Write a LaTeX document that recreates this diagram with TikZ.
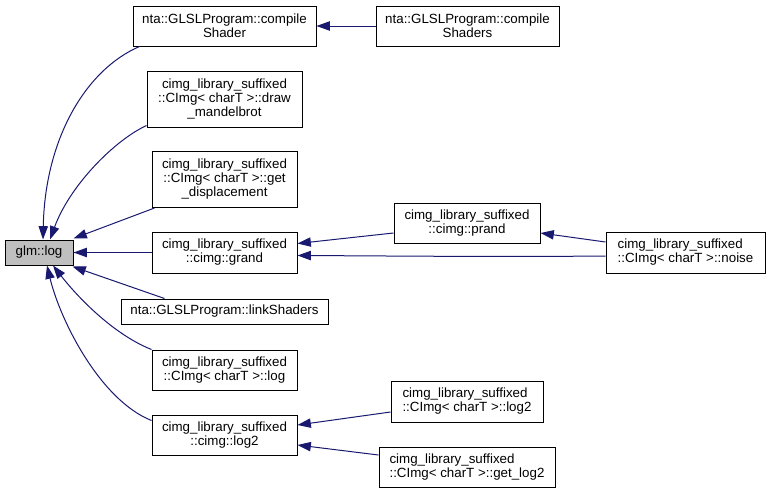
\documentclass[tikz,border=0pt]{standalone}
\usepackage{fontspec}
\setmainfont{Liberation Sans}
\usetikzlibrary{arrows.meta,calc}
\definecolor{edgeblue}{HTML}{191970}
\definecolor{glmgray}{HTML}{BFBFBF}
\begin{document}
\begin{tikzpicture}[x=0.75pt,y=-0.75pt,
  box/.style={draw=black,line width=0.75pt,rectangle,inner sep=0pt,align=center,font=\fontsize{10}{10.5}\selectfont},
  lbox/.style={box,align=left},
  edge/.style={draw=edgeblue,line width=0.75pt,-{Triangle[length=10pt,width=7pt]}}]
\useasboundingbox (0,0) rectangle (771,493);
\node[box,fill=glmgray,minimum width=51pt,minimum height=18.75pt] (glm) at (39,252.5) {glm::log};
\node[box,minimum width=137.25pt,minimum height=30pt] (cs) at (224.5,26) {nta::GLSLProgram::compile\\Shader};
\node[box,minimum width=137.25pt,minimum height=30pt] (css) at (467.5,26) {nta::GLSLProgram::compile\\Shaders};
\node[box,minimum width=116.25pt,minimum height=42pt] (dm) at (224.5,99) {cimg\_library\_suffixed\\::CImg< charT >::draw\\\_mandelbrot};
\node[box,minimum width=108.75pt,minimum height=42pt] (gd) at (224.5,179.5) {cimg\_library\_suffixed\\::CImg< charT >::get\\\_displacement};
\node[box,minimum width=108.75pt,minimum height=30.75pt] (grand) at (224.5,252.5) {cimg\_library\_suffixed\\::cimg::grand};
\node[box,minimum width=155.25pt,minimum height=18.75pt] (ls) at (224.5,311.5) {nta::GLSLProgram::linkShaders};
\node[box,minimum width=108.75pt,minimum height=30pt] (clog) at (224.5,370) {cimg\_library\_suffixed\\::CImg< charT >::log};
\node[box,minimum width=108.75pt,minimum height=30pt] (clogtwo) at (224.5,435) {cimg\_library\_suffixed\\::cimg::log2};
\node[box,minimum width=109.5pt,minimum height=30pt] (prand) at (467,223) {cimg\_library\_suffixed\\::cimg::prand};
\node[lbox,minimum width=119.25pt,minimum height=30.75pt] (noise) at (685.5,252.5) {cimg\_library\_suffixed\\::CImg< charT >::noise};
\node[lbox,minimum width=114pt,minimum height=30.75pt] (Clogtwo) at (467,401.5) {cimg\_library\_suffixed\\::CImg< charT >::log2};
\node[lbox,minimum width=132pt,minimum height=30pt] (getlog) at (467,467) {cimg\_library\_suffixed\\::CImg< charT >::get\_log2};
% edges
\draw[edge] ($(cs.south west)+(7,0)$) .. controls (85,70) and (45,140) .. ($(glm.north)+(4,0)$);
\draw[edge] ($(dm.south west)+(0,-2)$) .. controls (115,140) and (70,185) .. ($(glm.north)+(11,0)$);
\draw[edge] ($(gd.south west)+(3,0)$) -- ($(glm.north east)+(0,-1)$);
\draw[edge] (grand.west) -- (glm.east);
\draw[edge] ($(ls.north west)+(44,0)$) -- ($(glm.south east)+(-1,1)$);
\draw[edge] (clog.north west) .. controls (115,335) and (80,300) .. ($(glm.south)+(14,0)$);
\draw[edge] ($(clogtwo.north west)+(0,6)$) .. controls (100,400) and (60,320) .. ($(glm.south)+(8,0)$);
\draw[edge] (css.west) -- (cs.east);
\draw[edge] ($(prand.west)+(0,10)$) -- ($(grand.east)+(0,-9)$);
\draw[edge] ($(noise.west)+(0,3.5)$) .. controls (500,257) and (400,256) .. ($(grand.east)+(0,3)$);
\draw[edge] ($(noise.west)+(0,-10.5)$) -- ($(prand.east)+(0,10)$);
\draw[edge] ($(Clogtwo.west)+(0,10.5)$) -- ($(clogtwo.east)+(0,-10)$);
\draw[edge] ($(getlog.west)+(0,-12)$) -- ($(clogtwo.east)+(0,10)$);
\end{tikzpicture}
\end{document}
